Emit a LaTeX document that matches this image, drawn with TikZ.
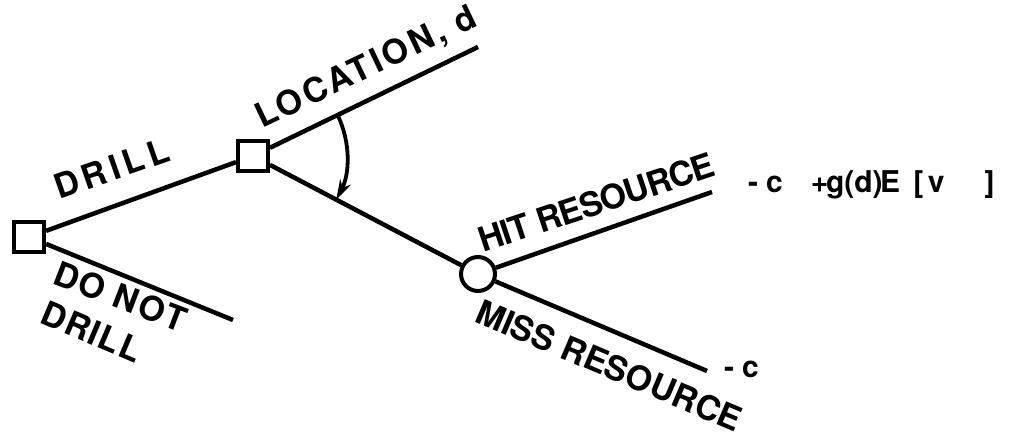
\documentclass[tikz,border=0pt]{standalone}
\usepackage{fontspec}
\setmainfont{TeX Gyre Heros}
\usetikzlibrary{arrows.meta,calc}
\begin{document}
\begin{tikzpicture}[x=1pt,y=1pt,
  branch/.style={line width=4.5pt},
  dbox/.style={draw,line width=4pt,minimum size=30pt,inner sep=0pt,fill=white},
  chance/.style={draw,circle,line width=4pt,minimum size=34pt,inner sep=0pt,fill=white},
  lbl/.style={font=\fontsize{34}{40}\selectfont\bfseries,inner sep=0pt,anchor=base west},
  pay/.style={font=\fontsize{30}{36}\selectfont\bfseries,inner sep=0pt,anchor=base west}]
\useasboundingbox (0,0) rectangle (1024,439);
% nodes
\node[dbox] (a) at (29,202) {};
\node[dbox] (b) at (253,283) {};
\node[chance] (c) at (478,165) {};
\coordinate (locEnd) at (478,392);
\coordinate (hitEnd) at (712,247);
\coordinate (missEnd) at (707,68);
\coordinate (dndEnd) at (233,119);
% branches
\draw[branch] (a) -- (b);
\draw[branch] (a) -- (dndEnd);
\draw[branch] (b) -- (locEnd);
\draw[branch] (b) -- (c);
\draw[branch] (c) -- (hitEnd);
\draw[branch] (c) -- (missEnd);
% arc with arrow
\draw[line width=3.8pt,-{Stealth[length=20pt,width=12pt]}] ($(b)+(25.8:94)$) arc[start angle=25.8,end angle=-27.7,radius=94pt];
% labels
\node[lbl,rotate=19.2] (tdrill) at (59,239) {\addfontfeatures{LetterSpace=14}DRILL};
\node[lbl,rotate=25.5] (tloc) at (262,310) {\addfontfeatures{LetterSpace=9}LOCATION, d};
\node[lbl,rotate=18.4] (thit) at (483,186) {\addfontfeatures{LetterSpace=-3}HIT RESOURCE};
\node[lbl,rotate=-23] (tmiss) at (473,118) {MISS RESOURCE};
\node[lbl,rotate=-21] (tdnd1) at (51,156) {\addfontfeatures{LetterSpace=5}DO NOT};
\node[lbl,rotate=-23] (tdnd2) at (38,117) {\addfontfeatures{LetterSpace=4}DRILL};
\node[pay] (p1) at (748,246) {-\kern8pt c\kern28pt +\kern-2.4pt g(d)\kern-2.6pt E\kern13.3pt [\kern4.6pt v\kern40pt ]};
\node[pay] (p2) at (724,62) {-\kern8pt c};
\end{tikzpicture}
\end{document}
